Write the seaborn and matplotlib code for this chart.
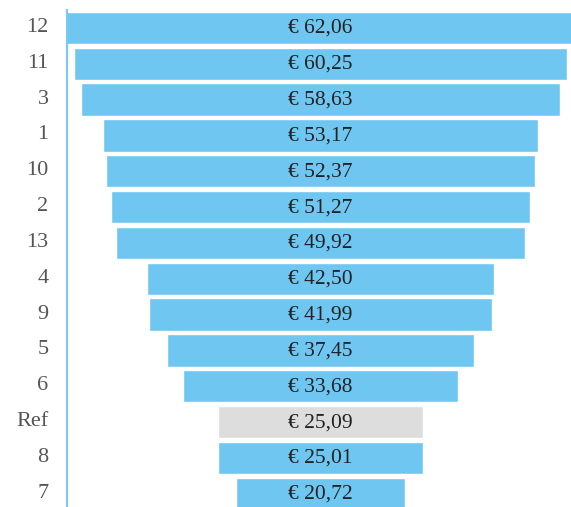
import numpy as np
import pandas as pd
import matplotlib
matplotlib.use('Agg')
import matplotlib.pyplot as plt
import matplotlib.transforms as mtransforms
import seaborn as sns

labels = ['12', '11', '3', '1', '10', '2', '13', '4', '9', '5', '6', 'Ref', '8', '7']
values = [62.06, 60.25, 58.63, 53.17, 52.37, 51.27, 49.92, 42.50, 41.99, 37.45, 33.68, 25.09, 25.01, 20.72]

sns.set_style('white')
plt.rcParams['font.family'] = ['Liberation Serif', 'DejaVu Serif']

df = pd.DataFrame({'label': labels, 'value': values})
df['left'] = -df['value'] / 2

W, H = 571, 507
fig = plt.figure(figsize=(W / 100, H / 100), dpi=100)
# axes runs a little past the right and bottom edges of the figure
ax = fig.add_axes([66.5 / W, -4.7 / H, 508 / W, 501.7 / H])

sns.barplot(data=df, x='value', y='label', order=labels, color='#6ec6f1',
            left=df['left'].values, width=0.9, ax=ax, saturation=1)
# reference bar in grey
for p, l in zip(ax.patches, labels):
    if l == 'Ref':
        p.set_facecolor('#dddddd')

for i, v in enumerate(values):
    ax.text(0, i + 0.14, '€ ' + f'{v:.2f}'.replace('.', ','), ha='center', va='baseline',
            fontsize=15.5, color='#222222')

m = max(values) / 2
ax.set_xlim(-m, m)
ax.set_ylim(13.5, -0.5)
ax.set_xlabel('')
ax.set_ylabel('')
ax.set_xticks([])
ax.tick_params(axis='y', length=0, pad=13, labelsize=16, labelcolor='#555555')
for s in ['top', 'right', 'bottom']:
    ax.spines[s].set_visible(False)
ax.spines['left'].set_color('#7cc8f0')
ax.spines['left'].set_linewidth(1.5)

# nudge tick labels up a little
shift = mtransforms.ScaledTranslation(0, 3 / 100, fig.dpi_scale_trans)
for t in ax.get_yticklabels():
    t.set_transform(t.get_transform() + shift)

fig.savefig('out.png', dpi=100)
